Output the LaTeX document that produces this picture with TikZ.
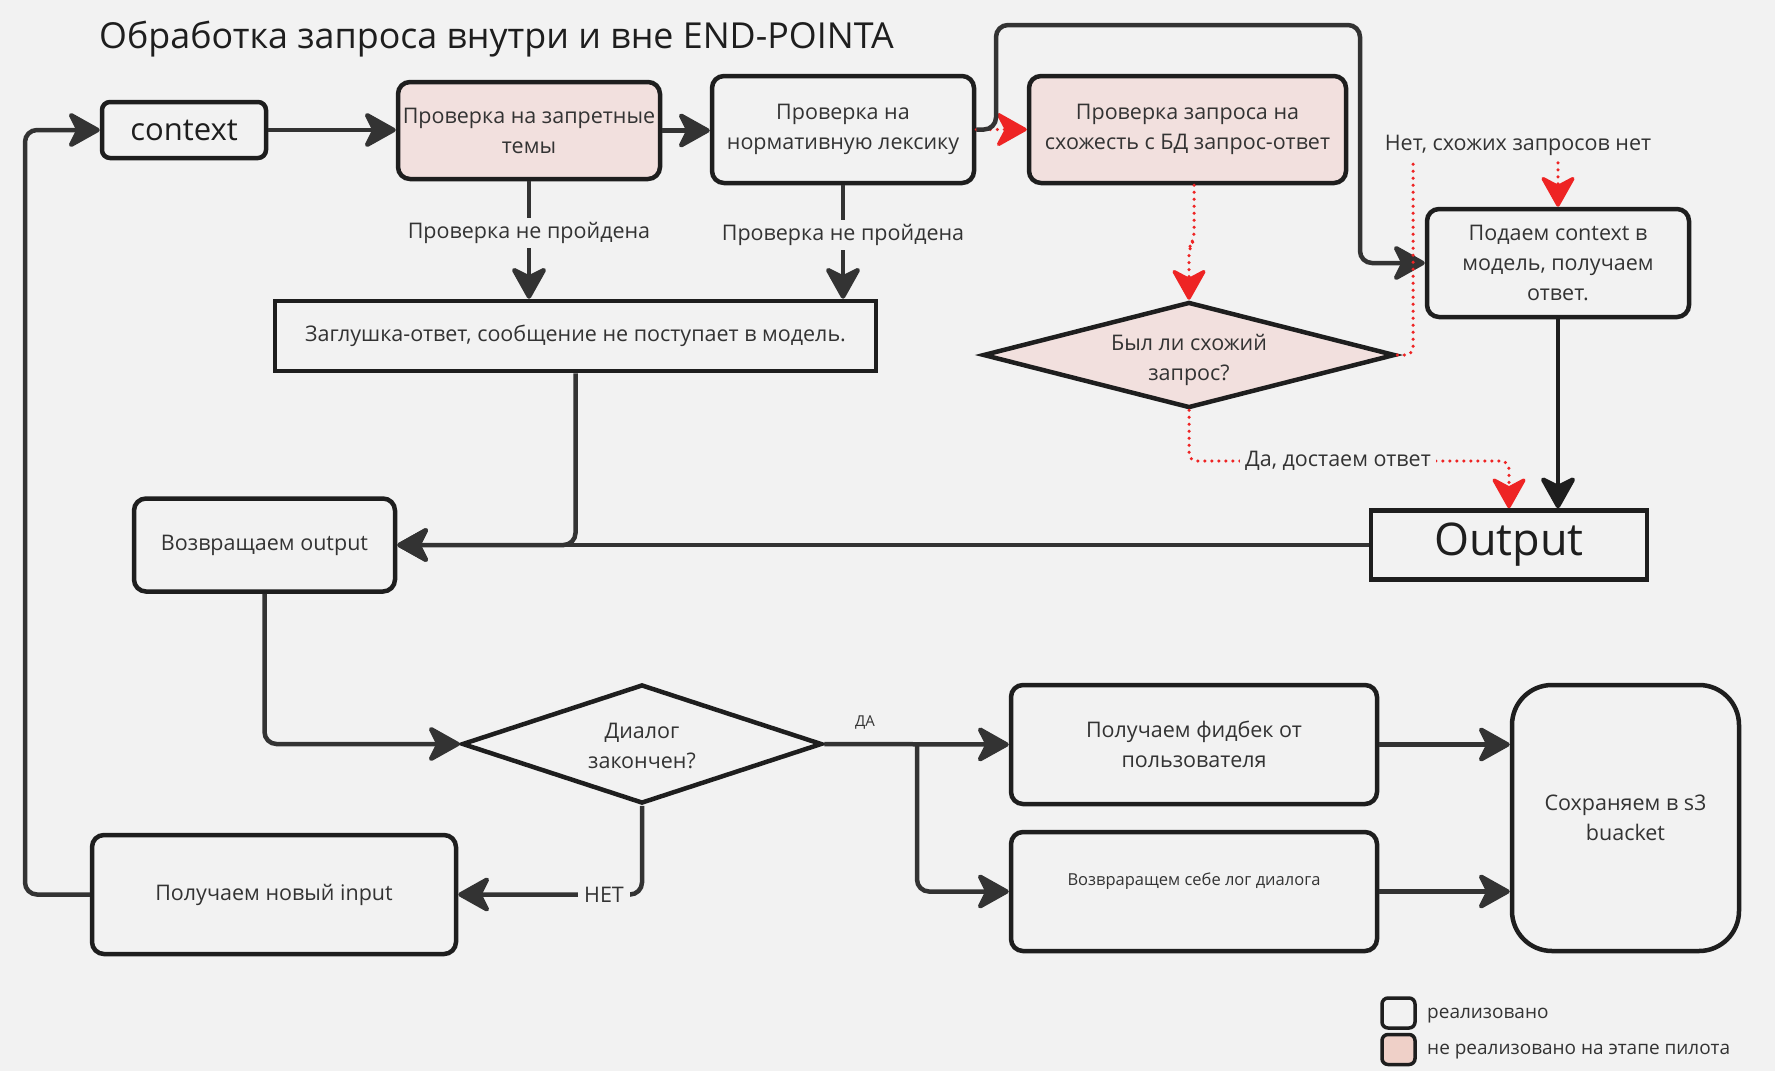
\documentclass[tikz,border=0pt]{standalone}
\usepackage{fontspec}
\setmainfont{Open Sans}
\usetikzlibrary{arrows.meta,shapes.geometric}
\definecolor{bgc}{HTML}{F2F2F2}
\definecolor{ink}{HTML}{1E1E1E}
\definecolor{linec}{HTML}{333333}
\definecolor{txt}{HTML}{333333}
\definecolor{pinkc}{HTML}{F2E0DE}
\definecolor{pinkl}{HTML}{EFD0C8}
\definecolor{redc}{HTML}{EE2424}
\tikzset{
  tipk/.tip={Stealth[length=36pt,width=40pt,inset=10pt,round]},
  tipr/.tip={Stealth[length=34pt,width=38pt,inset=10pt,round]},
  box/.style={draw=ink, line width=4.5pt, rounded corners=12pt, fill=bgc, align=center,
    text=txt, font=\fontsize{21.5}{30}\selectfont, inner sep=0pt},
  pbox/.style={box, fill=pinkc},
  sqbox/.style={box, rounded corners=0pt},
  dia/.style={draw=ink, line width=4.5pt, diamond, aspect=3.5, inner sep=0pt, fill=bgc},
  lbl/.style={fill=bgc, text=txt, font=\fontsize{21.5}{26}\selectfont, inner sep=4pt},
  conn/.style={draw=linec, line width=4.5pt, rounded corners=12pt, -tipk},
  rconn/.style={draw=redc, line width=3.5pt, line cap=round, dash pattern=on 0pt off 7pt,
    rounded corners=8pt, -tipr},
}
\begin{document}
\begin{tikzpicture}[x=1pt,y=-1pt]
\fill[bgc] (0,0) rectangle (1775,1071);
\useasboundingbox (0,0) rectangle (1775,1071);

% title
\node[anchor=west, text=ink, font=\fontsize{35.8}{40}\selectfont, inner sep=0pt] (title) at (99,39.5) {Обработка запроса внутри и вне END-POINTA};

% nodes
\node[box, rounded corners=8pt, minimum width=164pt, minimum height=56pt, font=\fontsize{31}{36}\selectfont, text=ink] (ctx) at (184,130) {context};
\node[pbox, minimum width=262pt, minimum height=97pt] (zap) at (529,130.5) {Проверка на запретные\\темы};
\node[box, minimum width=262pt, minimum height=107pt] (norm) at (843,129.5) {Проверка на\\нормативную лексику};
\node[pbox, minimum width=317pt, minimum height=107pt] (sim) at (1187.5,129.5) {Проверка запроса на\\схожесть с БД запрос-ответ};
\node[box, minimum width=262pt, minimum height=108pt] (pod) at (1558,263) {Подаем context в\\модель, получаем\\ответ.};
\node[dia, fill=pinkc, minimum width=412pt, minimum height=106pt] (d1) at (1189,355) {};
\node[text=txt, align=center, font=\fontsize{21.5}{30}\selectfont, inner sep=0pt] (d1t) at (1189,360) {Был ли схожий\\запрос?};
\node[sqbox, minimum width=601pt, minimum height=70pt] (stub) at (575.5,336) {Заглушка-ответ, сообщение не поступает в модель.};
\node[box, minimum width=261pt, minimum height=93pt] (ret) at (264.5,545) {Возвращаем output};
\node[sqbox, minimum width=276pt, minimum height=69pt, font=\fontsize{45}{50}\selectfont, text=ink] (out) at (1509,545) {Output};
\node[dia, minimum width=360pt, minimum height=119pt] (d2) at (642,744) {};
\node[text=txt, align=center, font=\fontsize{21.5}{30}\selectfont, inner sep=0pt] (d2t) at (642,746) {Диалог\\закончен?};
\node[box, minimum width=364pt, minimum height=119pt] (newin) at (274,894.5) {Получаем новый input};
\node[box, minimum width=366pt, minimum height=119pt] (fb) at (1194,744.5) {Получаем фидбек от\\пользователя};
\node[box, minimum width=366pt, minimum height=119pt] (log) at (1194,891.5) {};
\node[text=txt, font=\fontsize{16.5}{20}\selectfont, inner sep=0pt] (logt) at (1194,881.5) {Возвраращем себе лог диалога};
\node[box, rounded corners=40pt, minimum width=227pt, minimum height=266pt] (s3) at (1625.5,818) {Сохраняем в s3\\buacket};

% legend
\node[box, rounded corners=6pt, line width=3.5pt, minimum width=33pt, minimum height=30pt] (lg1) at (1398.5,1013) {};
\node[box, rounded corners=6pt, line width=3.5pt, fill=pinkl, minimum width=33pt, minimum height=30pt] (lg2) at (1398.5,1049.5) {};
\node[anchor=west, text=txt, font=\fontsize{19}{22}\selectfont, inner sep=0pt] (lg1t) at (1427,1016) {реализовано};
\node[anchor=west, text=txt, font=\fontsize{19}{22}\selectfont, inner sep=0pt] (lg2t) at (1427,1052) {не реализовано на этапе пилота};

% coordinates
\coordinate (loopx) at (25,0);
\coordinate (topy) at (0,25);
\coordinate (topx) at (1360,0);
\coordinate (normout) at (996,0);
\coordinate (branch) at (917,0);

% red connector under black
\draw[rconn] (norm.east) -- (sim.west);

% black connectors
\draw[conn] (newin.west) -- (newin.west -| loopx) -- (ctx.west -| loopx) -- (ctx.west);
\draw[conn] (ctx.east) -- (ctx.east -| zap.west);
\draw[conn] (zap.east) -- (zap.east -| norm.west);
\draw[conn] (norm.east) -- (norm.east -| normout) -- (normout |- topy) -- (topx |- topy) -- (topx |- pod.west) -- (pod.west);
\draw[conn] (zap.south) -- (zap.south |- stub.north);
\node[lbl] (zapl) at (529,233) {Проверка не пройдена};
\draw[conn] (norm.south) -- (norm.south |- stub.north);
\node[lbl] (norml) at (843,235) {Проверка не пройдена};
\draw[conn] (stub.south) -- (stub.south |- ret.east) -- (ret.east);
\draw[conn] (out.west) -- (ret.east);
\draw[conn, draw=ink, -{Stealth[length=36pt,width=40pt,inset=10pt,round,color=ink]}] (pod.south) -- (pod.south |- out.north);
\draw[conn] (ret.south) -- (ret.south |- d2.west) -- (d2.west);
\draw[conn] (d2.east) -- (fb.west);
\draw[conn] (branch |- d2.east) -- (branch |- log.west) -- (log.west);
\node[text=txt, font=\fontsize{15}{18}\selectfont, inner sep=0pt] (dal) at (865,723) {ДА};
\draw[conn] (d2.south) -- (d2.south |- newin.east) -- (newin.east);
\node[lbl, inner sep=6pt] (netl) at (604,895) {НЕТ};
\draw[conn] (fb.east) -- (fb.east -| s3.west);
\draw[conn] (log.east) -- (log.east -| s3.west);

% red connectors
\coordinate (j1) at (1194,240);
\coordinate (j2) at (1189,248);
\draw[rconn] (sim.south -| j1) -- (j1) -- (j2) -- (d1.north);
\coordinate (r1) at (1413,145);
\draw[rconn] (d1.east) -- (d1.east -| r1) -- (r1) -- (pod.north |- r1) -- (pod.north);
\node[lbl, inner sep=5pt] (nol) at (1518,145) {Нет, схожих запросов нет};
\coordinate (r2) at (0,461);
\draw[rconn] (d1.south) -- (d1.south |- r2) -- (out.north |- r2) -- (out.north);
\node[lbl, inner sep=5pt] (yesl) at (1338,461) {Да, достаем ответ};
\end{tikzpicture}
\end{document}
